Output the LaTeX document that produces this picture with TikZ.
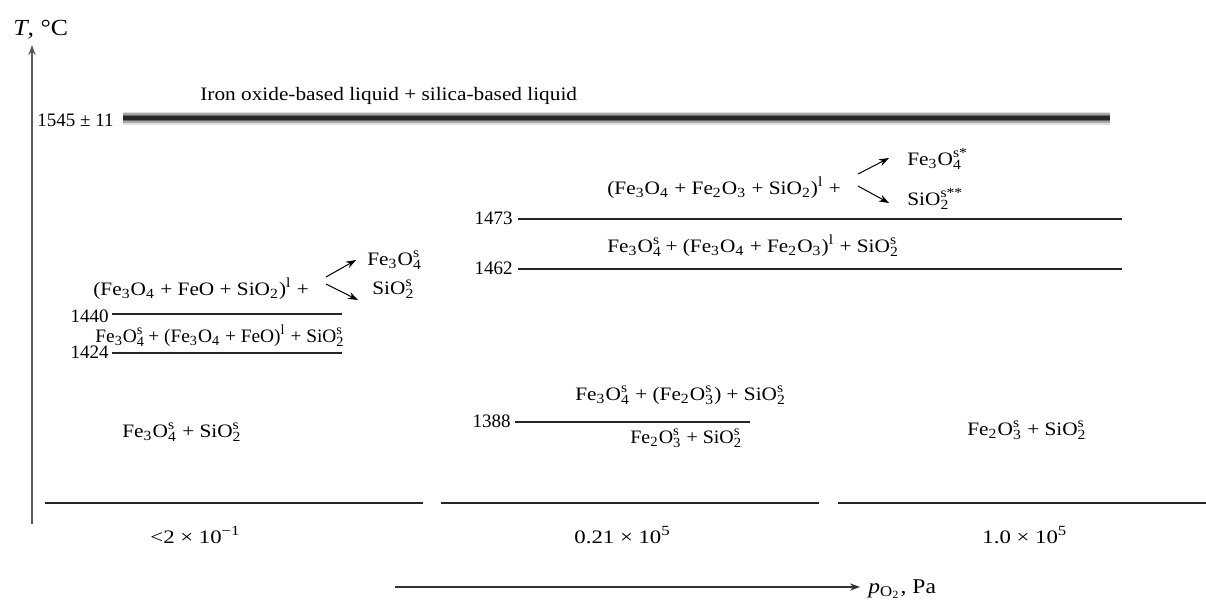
\documentclass[tikz,border=0pt]{standalone}
\usepackage{amsmath}
\usepackage{graphicx}
\usepackage{fontspec}
\setmainfont{Liberation Serif}
\DeclareMathSizes{9.5}{9.5}{7}{5}
\DeclareMathSizes{10.5}{10.5}{7.5}{5.5}
\usetikzlibrary{arrows.meta}
\newcommand\Sb[1]{\ensuremath{_{\text{#1}}}}
\newcommand\SB[2]{\ensuremath{_{\text{#1}}^{\text{#2}}}}
\newcommand\Sp[1]{\ensuremath{^{\text{#1}}}}
\newcommand\hx[2][1.12]{\scalebox{#1}[1]{#2}}
\begin{document}
\begin{tikzpicture}[x=0.5pt,y=-0.5pt,
  txt/.style={inner sep=0pt, anchor=base west, font=\fontsize{9.5}{11}\selectfont},
  lab/.style={inner sep=0pt, anchor=base east, font=\fontsize{9.5}{11}\selectfont},
  hline/.style={line width=0.7pt, black!85},
  arr/.style={-{Stealth[length=5pt,width=3.6pt]}, line width=0.5pt},
  axisline/.style={line width=0.9pt, black!65, -{Stealth[length=5pt,width=3.6pt]}}]
\useasboundingbox (0,0) rectangle (1206,602);
% axes
\coordinate (ax0) at (32,524);
\coordinate (ax1) at (32,45);
\draw[axisline] (ax0) -- (ax1);
\node[inner sep=0pt, anchor=base west, font=\fontsize{11.5}{13}\selectfont] (tlab) at (13,35) {\hx{\textit{T}, °C}};
\coordinate (px0) at (395,587);
\coordinate (px1) at (860,587);
\draw[arr, line width=0.7pt, black!80] (px0) -- (px1);
\node[inner sep=0pt, anchor=base west, font=\fontsize{10.5}{12}\selectfont] (plab) at (868,593) {\hx{\textit{p}\ensuremath{_{\text{O}_{\text{2}}}}, Pa}};
% liquid band
\draw[line width=6.5pt, black!12] (123,118) -- (1110,118);
\draw[line width=4.8pt, black!35] (123,118) -- (1110,118);
\draw[line width=3.2pt, black!60] (123,118) -- (1110,118);
\draw[line width=1.6pt, black!85] (123,118) -- (1110,118);
\node[txt] (t1545) at (37,126) {1545 ± 11};
\node[txt] (liq) at (200,100) {\hx{Iron oxide-based liquid + silica-based liquid}};
% right upper
\node[txt] (r1) at (607,194) {\hx{(Fe\Sb{3}O\Sb{4} + Fe\Sb{2}O\Sb{3} + SiO\Sb{2})\Sp{l} +}};
\node[txt] (r1a) at (907,165) {\hx{Fe\Sb{3}O\SB{4}{s*}}};
\node[txt] (r1b) at (907,205) {\hx{SiO\SB{2}{s**}}};
\coordinate (r1s1) at (858,174); \coordinate (r1e1) at (889,158);
\coordinate (r1s2) at (858,186); \coordinate (r1e2) at (889,203);
\draw[arr] (r1s1) -- (r1e1);
\draw[arr] (r1s2) -- (r1e2);
\draw[hline] (518,219) -- (1122,219);
\node[lab] (t1473) at (513,224) {1473};
\node[txt] (r2) at (607,252) {\hx{Fe\Sb{3}O\SB{4}{s}\,+ (Fe\Sb{3}O\Sb{4} + Fe\Sb{2}O\Sb{3})\Sp{l} + SiO\SB{2}{s}}};
\draw[hline] (518,269) -- (1122,269);
\node[lab] (t1462) at (513,274) {1462};
% left upper
\node[txt] (l1) at (93,295) {\hx{(Fe\Sb{3}O\Sb{4} + FeO + SiO\Sb{2})\Sp{l} +}};
\node[txt] (l1a) at (367,265) {\hx{Fe\Sb{3}O\SB{4}{s}}};
\node[txt] (l1b) at (372,294) {\hx{SiO\SB{2}{s}}};
\coordinate (l1s1) at (326,277); \coordinate (l1e1) at (356,260);
\coordinate (l1s2) at (326,284); \coordinate (l1e2) at (358,300);
\draw[arr] (l1s1) -- (l1e1);
\draw[arr] (l1s2) -- (l1e2);
\draw[hline] (112,314) -- (342,314);
\node[lab] (t1440) at (109,322) {1440};
\node[txt] (l2) at (95,342) {\hx[1.02]{Fe\Sb{3}O\SB{4}{s}\,+ (Fe\Sb{3}O\Sb{4} + FeO)\Sp{l} + SiO\SB{2}{s}}};
\draw[hline] (112,353) -- (342,353);
\node[lab] (t1424) at (109,358) {1424};
% lower
\node[txt] (l3) at (122,437) {\hx{Fe\Sb{3}O\SB{4}{s} + SiO\SB{2}{s}}};
\node[txt] (m1) at (575,400) {\hx{Fe\Sb{3}O\SB{4}{s} + (Fe\Sb{2}O\SB{3}{s}) + SiO\SB{2}{s}}};
\draw[hline] (515,422) -- (750,422);
\node[lab] (t1388) at (511,427) {1388};
\node[txt] (m2) at (630,443) {\hx[1.05]{Fe\Sb{2}O\SB{3}{s} + SiO\SB{2}{s}}};
\node[txt] (rr) at (967,435) {\hx{Fe\Sb{2}O\SB{3}{s} + SiO\SB{2}{s}}};
% bottom
\draw[hline] (45,503) -- (423,503);
\draw[hline] (441,503) -- (819,503);
\draw[hline] (838,503) -- (1206,503);
\node[txt] (b1) at (150,543) {\hx[1.2]{<2 × 10\Sp{−1}}};
\node[txt] (b2) at (574,543) {\hx[1.2]{0.21 × 10\Sp{5}}};
\node[txt] (b3) at (982,543) {\hx[1.2]{1.0 × 10\Sp{5}}};
\end{tikzpicture}
\end{document}
